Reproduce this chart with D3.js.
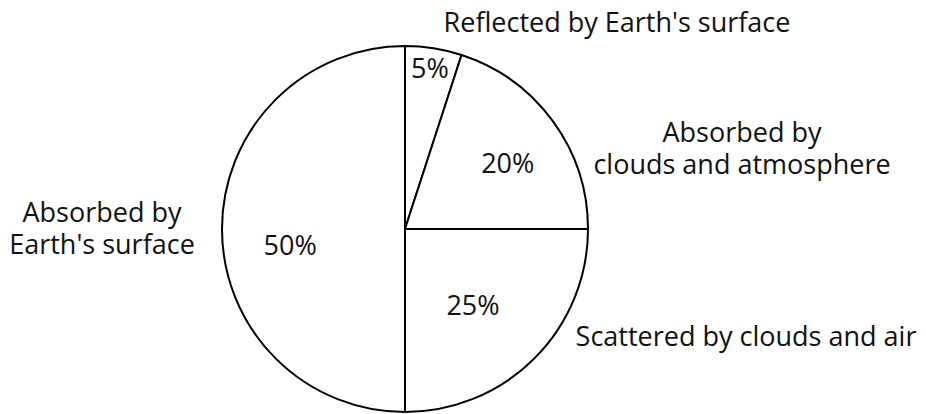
<!DOCTYPE html>
<html lang="en">
  <head>
    <meta charset="utf-8" />
    <title>Solar radiation pie</title>
    <script src="https://cdn.jsdelivr.net/npm/d3@7"></script>
    <style>
      body { margin: 0; background: #fff; }
      text { font-family: "Open Sans", sans-serif; fill: #111; }
    </style>
  </head>
  <body>
    <script>
      // slices, clockwise from 12 o'clock
      var categories = [
        "Reflected by Earth's surface",
        "Absorbed by clouds and atmosphere",
        "Scattered by clouds and air",
        "Absorbed by Earth's surface"
      ];
      var values = [5, 20, 25, 50];
      var valueLabels = ["5%", "20%", "25%", "50%"];
      var nameLines = [
        ["Reflected by Earth's surface"],
        ["Absorbed by", "clouds and atmosphere"],
        ["Scattered by clouds and air"],
        ["Absorbed by", "Earth's surface"]
      ];

      var w = 926, h = 414;
      var cx = 405, cy = 229, r = 183;
      var fs = 27;

      var svg = d3.select("body").append("svg")
        .attr("width", w).attr("height", h);

      var pie = d3.pie().sort(null).value(function (d) { return d; });
      var arcs = pie(values);
      var arc = d3.arc().innerRadius(0).outerRadius(r);

      var g = svg.append("g").attr("transform", "translate(" + cx + "," + cy + ")");

      g.selectAll("path")
        .data(arcs)
        .enter()
        .append("path")
        .attr("d", arc)
        .attr("fill", "#fff")
        .attr("stroke", "#000")
        .attr("stroke-width", 2)
        .attr("stroke-linejoin", "round");

      // where the percent sits inside each slice (radius, angle shift in degrees)
      var inside = [[163, -0.2], [122, 3.4], [102, 3.2], [116, -8]];
      g.selectAll("text.pct")
        .data(arcs)
        .enter()
        .append("text")
        .attr("class", "pct")
        .attr("text-anchor", "middle")
        .attr("dy", "0.36em")
        .attr("font-size", fs)
        .attr("transform", function (d, i) {
          var a = (d.startAngle + d.endAngle) / 2 + inside[i][1] * Math.PI / 180;
          var rr = inside[i][0];
          return "translate(" + rr * Math.sin(a) + "," + -rr * Math.cos(a) + ")";
        })
        .text(function (d, i) { return valueLabels[i]; });

      // outside names (first-line baseline)
      var outside = [[617, 32], [742, 142], [746, 346], [102, 222]];
      svg.selectAll("text.name")
        .data(nameLines)
        .enter()
        .append("text")
        .attr("class", "name")
        .attr("text-anchor", "middle")
        .attr("font-size", fs)
        .attr("x", function (d, i) { return outside[i][0]; })
        .attr("y", function (d, i) { return outside[i][1]; })
        .selectAll("tspan")
        .data(function (d) { return d; })
        .enter()
        .append("tspan")
        .attr("x", function () { return this.parentNode.getAttribute("x"); })
        .attr("dy", function (d, i) { return i ? 32 : 0; })
        .text(function (d) { return d; });
    </script>
  </body>
</html>
